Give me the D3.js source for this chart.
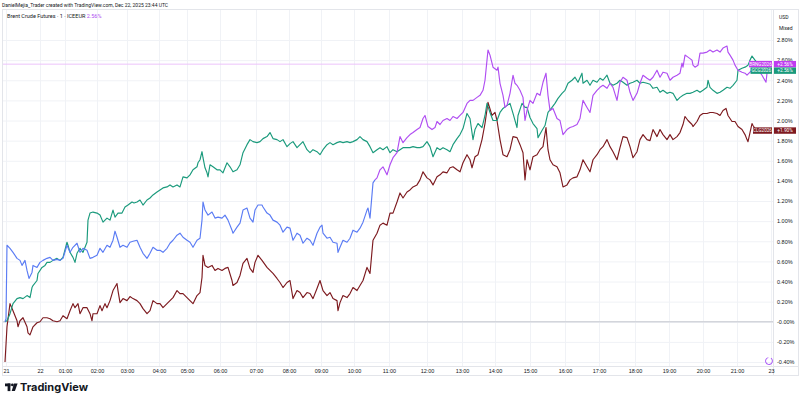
<!DOCTYPE html>
<html>
<head>
<meta charset="utf-8">
<script src="https://cdn.jsdelivr.net/npm/d3@7"></script>
<style>
  body { margin: 0; background: #fff; }
  svg { display: block; font-family: Roboto, "Liberation Sans", sans-serif; }
</style>
</head>
<body>
<div id="chart"></div>
<script>
// Etiquetas del eje de tiempo (posicion en barras) y del eje de precios
const tickLabels = ["21", "22", "01:00", "02:00", "03:00", "04:00", "05:00", "06:00", "07:00", "08:00", "09:00", "10:00",
    "11:00", "12:00", "13:00", "14:00", "15:00", "16:00", "17:00", "18:00", "19:00", "20:00", "21:00", "23"];
const tickBars = [1, 35, 60, 92, 122, 154, 182, 215, 251, 284, 316, 349, 384, 422, 457, 490, 525, 560, 594, 630, 664, 698, 732, 766];
const yTicks = [-0.4, -0.2, 0, 0.2, 0.4, 0.6, 0.8, 1.0, 1.2, 1.4, 1.6, 1.8, 2.0, 2.2, 2.4, 2.6, 2.8];

const seriesNames = ["BRNG2026", "GCG2026", "CLG2026"];
const brentSwitchBar = 370;   // la linea de Brent cambia de azul a violeta aqui

// [barra, % de cambio]
const brentData = [[0,0.00],[1,0.03],[2,0.76],[5,0.73],[8,0.69],[12,0.63],[15,0.61],[17,0.56],[20,0.61],[22,0.51],[24,0.43],[27,0.49],[28,0.56],[32,0.54],[35,0.59],[38,0.61],[42,0.63],[45,0.64],[48,0.61],[52,0.62],[55,0.61],[58,0.63],[62,0.76],[65,0.69],[68,0.74],[72,0.78],[75,0.69],[78,0.73],[82,0.71],[85,0.63],[88,0.64],[92,0.66],[95,0.73],[98,0.69],[102,0.76],[105,0.74],[108,0.81],[110,0.90],[112,0.84],[115,0.74],[118,0.76],[122,0.74],[125,0.79],[128,0.80],[132,0.81],[135,0.74],[138,0.68],[142,0.63],[145,0.68],[148,0.74],[152,0.71],[155,0.71],[158,0.69],[162,0.73],[165,0.78],[168,0.81],[172,0.86],[175,0.88],[178,0.84],[182,0.81],[185,0.79],[188,0.74],[192,0.81],[195,0.83],[197,1.01],[198,1.19],[200,1.11],[203,1.06],[207,1.09],[210,1.03],[213,1.04],[217,1.03],[220,1.06],[223,1.01],[227,0.91],[228,0.88],[232,0.94],[235,0.98],[238,1.11],[242,1.13],[245,1.03],[248,0.99],[250,1.11],[253,1.16],[257,1.16],[258,1.14],[262,1.08],[265,1.06],[268,1.01],[272,0.99],[275,0.96],[278,0.89],[282,0.94],[285,0.93],[288,0.81],[292,0.88],[295,0.86],[298,0.78],[302,0.83],[305,0.81],[308,0.76],[312,0.88],[315,0.94],[317,0.96],[318,0.88],[322,0.83],[325,0.84],[328,0.79],[332,0.78],[333,0.69],[335,0.74],[338,0.81],[342,0.79],[345,0.83],[348,0.91],[352,0.89],[355,0.93],[358,0.99],[362,1.11],[363,1.13],[365,1.03],[368,1.38],[370,1.41],[372,1.43],[375,1.51],[378,1.54],[382,1.46],[385,1.56],[388,1.63],[392,1.68],[395,1.84],[398,1.78],[402,1.83],[405,1.86],[408,1.88],[412,1.91],[415,1.93],[418,2.02],[420,2.05],[423,1.94],[427,1.91],[430,1.93],[432,1.99],[435,1.96],[438,2.00],[442,2.02],[445,2.00],[448,2.04],[452,2.02],[455,2.05],[458,2.08],[462,2.17],[465,2.20],[468,2.20],[472,2.23],[475,2.25],[478,2.30],[480,2.40],[482,2.60],[483,2.70],[485,2.65],[488,2.53],[492,2.50],[493,2.53],[495,2.37],[498,2.25],[500,2.13],[502,2.15],[505,2.27],[508,2.45],[510,2.37],[512,2.35],[515,2.30],[518,2.23],[520,2.00],[522,2.10],[525,2.20],[528,2.17],[532,2.27],[535,2.25],[538,2.38],[541,2.47],[543,2.25],[545,2.10],[548,2.12],[552,2.02],[555,2.00],[558,1.86],[562,1.91],[565,1.93],[568,1.94],[572,1.96],[575,2.02],[578,2.20],[582,2.13],[585,2.08],[588,2.25],[592,2.30],[595,2.33],[598,2.35],[602,2.32],[605,2.37],[608,2.33],[612,2.20],[615,2.38],[618,2.43],[622,2.40],[625,2.28],[628,2.20],[632,2.27],[635,2.37],[638,2.45],[642,2.42],[645,2.40],[648,2.43],[652,2.50],[655,2.43],[658,2.48],[662,2.47],[665,2.40],[668,2.43],[672,2.45],[675,2.47],[677,2.57],[678,2.53],[680,2.65],[683,2.63],[687,2.60],[688,2.55],[690,2.53],[693,2.55],[695,2.67],[698,2.67],[702,2.68],[705,2.70],[708,2.68],[712,2.70],[715,2.68],[718,2.72],[722,2.74],[723,2.68],[725,2.65],[728,2.60],[730,2.55],[733,2.50],[737,2.48],[740,2.47],[742,2.45],[747,2.50],[752,2.52],[757,2.45],[761,2.38],[763,2.56]];

const gcData = [[0,0.00],[2,0.01],[5,0.08],[8,0.18],[12,0.23],[15,0.24],[18,0.23],[22,0.26],[25,0.24],[27,0.34],[28,0.36],[32,0.41],[33,0.48],[37,0.54],[40,0.56],[42,0.59],[45,0.59],[48,0.61],[52,0.63],[55,0.61],[58,0.64],[62,0.79],[63,0.76],[65,0.69],[68,0.64],[70,0.59],[72,0.68],[75,0.73],[78,0.69],[80,0.74],[82,0.79],[83,1.01],[85,1.08],[88,1.09],[92,1.08],[95,1.06],[98,0.99],[102,1.03],[105,1.01],[108,1.11],[110,1.04],[113,1.08],[117,1.08],[120,1.14],[123,1.16],[127,1.19],[129,1.18],[132,1.19],[135,1.21],[138,1.16],[142,1.21],[145,1.23],[148,1.26],[152,1.29],[155,1.31],[158,1.33],[162,1.34],[165,1.36],[168,1.34],[172,1.36],[175,1.34],[178,1.44],[182,1.43],[185,1.46],[188,1.51],[192,1.54],[193,1.58],[195,1.61],[197,1.69],[198,1.63],[200,1.53],[202,1.48],[203,1.44],[205,1.56],[208,1.54],[212,1.51],[215,1.51],[218,1.48],[222,1.58],[225,1.54],[228,1.49],[232,1.51],[235,1.56],[238,1.68],[242,1.76],[245,1.81],[248,1.79],[252,1.78],[255,1.79],[258,1.82],[262,1.84],[265,1.88],[268,1.82],[272,1.81],[275,1.79],[278,1.81],[282,1.74],[285,1.77],[288,1.79],[292,1.73],[295,1.76],[298,1.79],[302,1.71],[305,1.68],[308,1.71],[312,1.69],[315,1.66],[318,1.71],[322,1.76],[325,1.78],[328,1.76],[332,1.78],[335,1.79],[338,1.78],[342,1.79],[345,1.78],[348,1.79],[352,1.81],[355,1.84],[358,1.81],[362,1.79],[365,1.74],[368,1.68],[372,1.71],[375,1.73],[378,1.71],[382,1.74],[385,1.68],[388,1.71],[392,1.69],[395,1.71],[398,1.73],[402,1.73],[405,1.73],[408,1.74],[412,1.73],[415,1.73],[418,1.74],[422,1.79],[425,1.74],[428,1.64],[432,1.73],[435,1.71],[438,1.73],[442,1.71],[445,1.69],[448,1.76],[452,1.82],[455,1.86],[458,1.92],[462,2.07],[465,2.02],[468,1.81],[470,1.91],[473,1.97],[477,1.93],[480,2.05],[482,2.17],[485,2.08],[488,2.00],[492,2.00],[495,2.08],[498,2.12],[502,2.15],[505,2.17],[508,2.07],[512,1.93],[513,2.05],[517,2.17],[520,2.13],[522,2.13],[525,2.03],[528,1.97],[532,1.92],[533,1.83],[537,1.90],[540,1.95],[543,2.08],[547,2.13],[550,2.17],[553,2.22],[557,2.27],[560,2.30],[563,2.37],[567,2.40],[570,2.43],[573,2.38],[577,2.47],[578,2.37],[582,2.40],[585,2.35],[588,2.40],[592,2.38],[595,2.42],[598,2.40],[602,2.45],[605,2.37],[608,2.35],[612,2.37],[615,2.40],[618,2.38],[622,2.35],[625,2.37],[628,2.38],[632,2.40],[635,2.37],[638,2.38],[642,2.37],[645,2.36],[648,2.32],[652,2.33],[655,2.28],[658,2.30],[662,2.27],[665,2.28],[668,2.27],[672,2.20],[675,2.23],[678,2.25],[682,2.27],[685,2.27],[688,2.28],[692,2.30],[695,2.28],[698,2.30],[702,2.33],[703,2.40],[705,2.33],[708,2.30],[712,2.27],[715,2.28],[718,2.30],[722,2.33],[725,2.32],[728,2.35],[732,2.40],[733,2.50],[737,2.52],[740,2.53],[743,2.55],[745,2.60],[747,2.64],[750,2.60],[755,2.54],[763,2.56]];

const clData = [[0,-0.40],[2,-0.05],[5,0.18],[8,0.11],[12,0.01],[13,-0.05],[15,0.01],[18,0.04],[22,-0.05],[23,-0.11],[25,-0.13],[28,-0.05],[32,-0.01],[35,0.00],[38,0.04],[42,0.04],[45,0.03],[48,0.01],[52,0.00],[55,0.01],[58,0.06],[62,0.03],[65,0.11],[68,0.18],[70,0.14],[73,0.18],[75,0.08],[78,0.14],[82,0.14],[85,0.08],[87,0.01],[88,0.08],[92,0.08],[95,0.16],[97,0.11],[100,0.18],[102,0.14],[105,0.21],[108,0.31],[112,0.38],[113,0.31],[115,0.19],[118,0.23],[122,0.21],[125,0.25],[128,0.23],[132,0.21],[135,0.18],[138,0.13],[142,0.08],[145,0.11],[148,0.21],[152,0.18],[155,0.18],[158,0.14],[162,0.18],[165,0.21],[168,0.24],[172,0.31],[175,0.28],[178,0.28],[182,0.24],[185,0.21],[188,0.18],[192,0.26],[195,0.29],[197,0.44],[198,0.66],[200,0.56],[203,0.54],[207,0.56],[210,0.51],[213,0.53],[217,0.51],[220,0.53],[223,0.54],[227,0.41],[228,0.36],[232,0.39],[235,0.46],[238,0.58],[242,0.63],[245,0.53],[248,0.49],[250,0.59],[253,0.66],[257,0.61],[262,0.54],[265,0.51],[268,0.48],[272,0.43],[275,0.39],[278,0.34],[282,0.39],[285,0.41],[288,0.23],[292,0.31],[295,0.29],[298,0.24],[302,0.29],[305,0.28],[308,0.23],[312,0.33],[315,0.41],[318,0.31],[322,0.26],[325,0.29],[328,0.23],[332,0.21],[333,0.11],[335,0.19],[338,0.26],[342,0.24],[345,0.28],[348,0.34],[352,0.31],[355,0.36],[358,0.41],[362,0.54],[365,0.48],[368,0.81],[372,0.88],[375,0.96],[378,0.98],[382,0.96],[385,1.08],[388,1.08],[392,1.19],[395,1.28],[398,1.23],[402,1.29],[405,1.31],[408,1.34],[412,1.36],[415,1.41],[418,1.49],[422,1.43],[425,1.41],[428,1.36],[432,1.44],[435,1.46],[438,1.49],[442,1.48],[445,1.53],[448,1.54],[452,1.51],[455,1.49],[458,1.58],[462,1.66],[465,1.61],[467,1.53],[470,1.64],[473,1.66],[477,1.81],[480,1.97],[483,2.18],[487,2.05],[490,2.08],[492,2.00],[495,1.81],[498,1.66],[502,1.64],[505,1.71],[508,1.84],[512,1.83],[515,1.76],[518,1.68],[520,1.41],[522,1.61],[525,1.51],[528,1.64],[532,1.66],[535,1.71],[538,1.74],[541,1.93],[543,1.71],[545,1.61],[548,1.56],[552,1.54],[555,1.48],[558,1.34],[562,1.36],[565,1.41],[568,1.43],[572,1.44],[575,1.51],[578,1.61],[582,1.54],[585,1.49],[588,1.61],[592,1.66],[595,1.71],[598,1.74],[602,1.81],[605,1.74],[608,1.69],[612,1.61],[615,1.73],[618,1.84],[622,1.83],[625,1.74],[628,1.63],[632,1.69],[635,1.81],[638,1.86],[642,1.81],[645,1.80],[648,1.91],[652,1.84],[655,1.91],[658,1.86],[662,1.81],[665,1.86],[668,1.81],[672,1.84],[675,1.88],[678,1.96],[680,2.04],[683,2.00],[687,1.96],[688,1.94],[692,1.99],[695,2.05],[698,2.07],[702,2.07],[705,2.08],[708,2.08],[712,2.07],[715,2.05],[718,2.10],[721,2.12],[723,2.05],[727,1.99],[730,1.99],[733,1.94],[737,1.91],[740,1.86],[742,1.81],[743,1.79],[745,1.88],[747,1.97],[748,1.95],[750,1.92],[755,1.91],[763,1.90]];

// Colores
const colorBlue = "#5b7cf4";
const colorPurple = "#b04ef2";
const colorGreen = "#1a9a7c";
const colorRed = "#7d1a1f";

// Dimensiones del panel
const W = 800, H = 399;
const pane = { left: 3, top: 10, right: 773, bottom: 366 };

const svg = d3.select("#chart").append("svg")
    .attr("width", W)
    .attr("height", H);

svg.append("rect").attr("width", W).attr("height", H).attr("fill", "#fff");

const x = d3.scaleLinear().domain([0, 767]).range([5, 772]);
const y = d3.scaleLinear().domain([-0.4, 2.8]).range([362, 40]);

// Rejilla vertical
svg.append("g")
    .attr("class", "grid-x")
    .attr("transform", `translate(0,${pane.top})`)
    .call(d3.axisBottom(x).tickValues(tickBars).tickSize(pane.bottom - pane.top).tickFormat(""))
    .call(g => g.select(".domain").remove())
    .selectAll("line").attr("stroke", "#f0f2f6");

// Rejilla horizontal
svg.append("g")
    .attr("class", "grid-y")
    .attr("transform", `translate(${pane.left},0)`)
    .call(d3.axisRight(y).tickValues(yTicks).tickSize(pane.right - pane.left).tickFormat(""))
    .call(g => g.select(".domain").remove())
    .selectAll("line").attr("stroke", "#f0f2f6");

// Bordes del panel y de los ejes
const borders = svg.append("g").attr("fill", "none").attr("stroke", "#e3e5ea").attr("stroke-width", 1);
borders.append("rect").attr("x", pane.left - 0.5).attr("y", pane.top - 0.5)
    .attr("width", W - pane.left - 1).attr("height", 376 - pane.top);
borders.append("line").attr("x1", pane.right + 0.5).attr("x2", pane.right + 0.5).attr("y1", pane.top).attr("y2", 376);
borders.append("line").attr("x1", pane.left).attr("x2", W - 1).attr("y1", pane.bottom + 0.5).attr("y2", pane.bottom + 0.5);

// Linea base 0%
svg.append("line")
    .attr("x1", pane.left).attr("x2", pane.right)
    .attr("y1", y(0)).attr("y2", y(0))
    .attr("stroke", "#d3d5db").attr("stroke-width", 1.5);

// Linea de precio del simbolo principal
const lastBrent = brentData[brentData.length - 1][1];
svg.append("line")
    .attr("x1", pane.left).attr("x2", pane.right)
    .attr("y1", y(lastBrent)).attr("y2", y(lastBrent))
    .attr("stroke", "#ecc3fb").attr("stroke-width", 1);

svg.append("clipPath").attr("id", "clip")
    .append("rect").attr("x", pane.left).attr("y", pane.top)
    .attr("width", pane.right - pane.left).attr("height", pane.bottom - pane.top);

const line = d3.line().x(d => x(d[0])).y(d => y(d[1]));
const plot = svg.append("g").attr("clip-path", "url(#clip)")
    .attr("fill", "none").attr("stroke-width", 1.15).attr("stroke-linejoin", "round");

plot.append("path").datum(clData).attr("d", line).attr("stroke", colorRed);
plot.append("path").datum(gcData).attr("d", line).attr("stroke", colorGreen);
plot.append("path").datum(brentData.filter(d => d[0] <= brentSwitchBar)).attr("d", line).attr("stroke", colorBlue);
plot.append("path").datum(brentData.filter(d => d[0] >= brentSwitchBar)).attr("d", line).attr("stroke", colorPurple);

// Eje de precios
svg.append("g")
    .attr("class", "y-axis")
    .attr("transform", `translate(${pane.right},0)`)
    .call(d3.axisRight(y).tickValues(yTicks).tickSize(0).tickPadding(4)
        .tickFormat(d => (d <= 0 ? "-" : "") + Math.abs(d).toFixed(2) + "%"))
    .call(g => g.select(".domain").remove())
    .selectAll("text")
    .style("font-size", "5.5px")
    .attr("fill", "#131722");

// Eje de tiempo
svg.append("g")
    .attr("class", "x-axis")
    .attr("transform", `translate(0,${pane.bottom})`)
    .call(d3.axisBottom(x).tickValues(tickBars).tickSize(0).tickPadding(3)
        .tickFormat((d, i) => tickLabels[i]))
    .call(g => g.select(".domain").remove())
    .selectAll("text")
    .style("font-size", "5.5px")
    .attr("fill", "#131722");

// USD / Mixed
svg.append("text").attr("x", 779).attr("y", 19).text("USD")
    .style("font-size", "5px").attr("fill", "#131722");
svg.append("text").attr("x", 779).attr("y", 29.5).text("Mixed")
    .style("font-size", "5px").attr("fill", "#131722");

// Etiquetas de ultimo valor
const labels = [
    { name: seriesNames[0], value: lastBrent, color: "#bf3cf0", cy: y(lastBrent), left: 749 },
    { name: seriesNames[1], value: gcData[gcData.length - 1][1], color: colorGreen, cy: y(lastBrent) + 6.5, left: 750.5 },
    { name: seriesNames[2], value: clData[clData.length - 1][1], color: "#7e1a20", cy: y(clData[clData.length - 1][1]), left: 753 }
];
const lab = svg.append("g");
labels.forEach(l => {
    lab.append("rect").attr("x", l.left).attr("y", l.cy - 3.2).attr("width", pane.right - 1 - l.left)
        .attr("height", 6.4).attr("fill", l.color);
    lab.append("text").attr("x", (l.left + pane.right - 1) / 2).attr("y", l.cy).attr("dy", "0.35em")
        .attr("text-anchor", "middle").text(l.name)
        .style("font-size", "4.6px").attr("fill", "#fff");
    lab.append("rect").attr("x", pane.right + 1).attr("y", l.cy - 3.2).attr("width", 22)
        .attr("height", 6.4).attr("fill", l.color);
    lab.append("text").attr("x", pane.right + 12).attr("y", l.cy).attr("dy", "0.35em")
        .attr("text-anchor", "middle").text("+" + l.value.toFixed(2) + "%")
        .style("font-size", "4.8px").attr("fill", "#fff");
});

// Icono violeta abajo a la derecha
svg.append("path")
    .attr("d", d3.arc()({ innerRadius: 3, outerRadius: 3.9, startAngle: 0.6, endAngle: 2 * Math.PI - 0.2 }))
    .attr("transform", "translate(769,361)")
    .attr("fill", "#a855f7");

// Cabecera
svg.append("text").attr("x", 2).attr("y", 6.8)
    .text("DanielMejia_Trader created with TradingView.com, Dec 22, 2025 23:44 UTC")
    .style("font-size", "5px").attr("fill", "#131722");

const title = svg.append("text").attr("x", 7).attr("y", 18).style("font-size", "5.5px");
title.append("tspan").attr("fill", "#131722").text("Brent Crude Futures · 1 · ICEEUR ");
title.append("tspan").attr("fill", colorPurple).text(lastBrent.toFixed(2) + "%");

// Logo TradingView
const logo = svg.append("g").attr("fill", "#131722");
logo.append("rect").attr("x", 5).attr("y", 383.5).attr("width", 5.4).attr("height", 2.8);
logo.append("rect").attr("x", 7.6).attr("y", 383.5).attr("width", 2.8).attr("height", 7.6);
logo.append("circle").attr("cx", 12.4).attr("cy", 384.9).attr("r", 1.4);
logo.append("path").attr("d", "M14,383.5 L17.6,383.5 L14.9,391.1 L11.7,391.1 Z");
logo.append("text").attr("x", 20).attr("y", 391.2)
    .text("TradingView")
    .style("font-family", "Inter, Roboto, sans-serif")
    .style("font-size", "11px")
    .style("font-weight", "700");
</script>
</body>
</html>
